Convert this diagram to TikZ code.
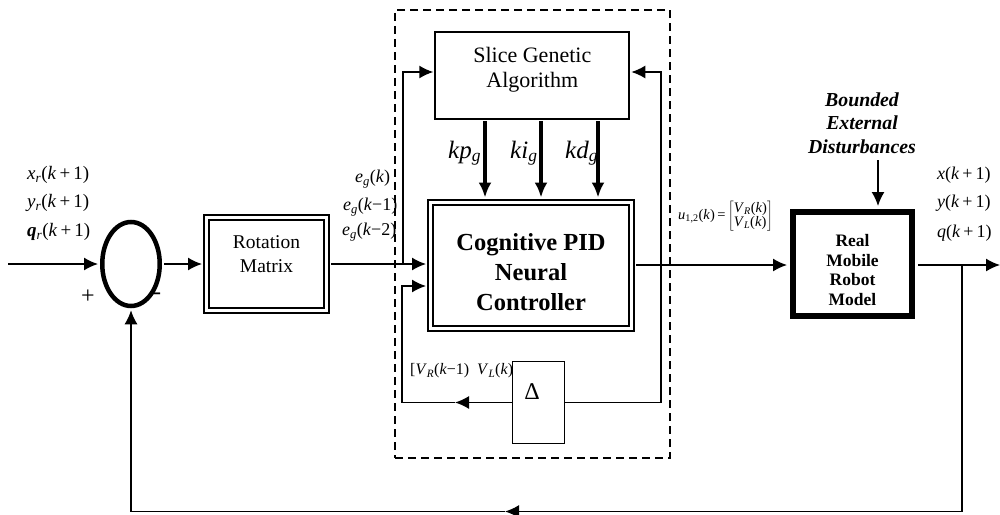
\documentclass[tikz,border=0pt]{standalone}
\usepackage{fontspec}
\setmainfont{Liberation Serif}
\usetikzlibrary{arrows.meta,shapes.geometric}
\newcommand{\fsz}[2]{\fontsize{#1}{#2}\selectfont}
\newcommand{\iv}[1]{\textit{#1}}
\newcommand{\sub}[1]{\textsubscript{#1}}
\begin{document}
\begin{tikzpicture}[x=1pt,y=-1pt,
  conn/.style={line width=1.5pt},
  arr/.style={line width=1.5pt,-{Latex[length=14pt,width=13pt]}},
  gainarr/.style={line width=3.5pt,-{Latex[length=15pt,width=13pt]}},
  dbox/.style={draw,double,line width=2pt,double distance=3pt,inner sep=0pt},
  sbox/.style={draw,inner sep=0pt},
  txt/.style={inner sep=0pt,align=center},
  lab/.style={inner sep=0pt,anchor=west,font=\fsz{19}{20}},
  olab/.style={inner sep=0pt,anchor=west,font=\fsz{18}{20}},
  elab/.style={inner sep=0pt,anchor=west,font=\fsz{18}{20}},
  glab/.style={inner sep=0pt,anchor=base west,font=\fsz{25}{28}}
]
\useasboundingbox (0,0) rectangle (1000,514);

% group
\node[draw,dash pattern=on 8pt off 5pt,line width=2.2pt,minimum width=275pt,minimum height=448pt,inner sep=0pt] (grp) at (532.5,234) {};

% blocks
\node[ellipse,draw,line width=4.5pt,minimum width=57.5pt,minimum height=84pt,inner sep=0pt] (sum) at (131,264) {};
\node[dbox,minimum width=120pt,minimum height=93pt] (rot) at (266.5,264) {};
\node[txt,font=\fsz{19.5}{24}] (rottxt) at (266.5,254) {Rotation\\Matrix};

\node[sbox,line width=2pt,minimum width=194pt,minimum height=87pt] (sga) at (532.3,75.8) {};
\node[txt,font=\fsz{22}{25}] (sgatxt) at (532.3,70) {Slice Genetic\\Algorithm};

\node[dbox,minimum width=201pt,minimum height=126pt] (ctrl) at (531,265) {};
\node[txt,font=\bfseries\fsz{24.5}{30}] (ctrltxt) at (531,272) {Cognitive PID\\Neural\\Controller};

\node[draw,line width=6pt,minimum width=119pt,minimum height=104pt,inner sep=0pt] (robot) at (852.5,264) {};
\node[txt,font=\bfseries\fsz{17.5}{19.5}] (robottxt) at (852.5,270) {Real\\Mobile\\Robot\\Model};

\node[txt,font=\bfseries\itshape\fsz{19.8}{23.5}] (dist) at (862,123) {Bounded\\External\\Disturbances};

% labels
\node[lab] (xr) at (27,175) {\iv{x}\sub{\iv{r}}(\iv{k}\,+\,1)};
\node[lab] (yr) at (27,203) {\iv{y}\sub{\iv{r}}(\iv{k}\,+\,1)};
\node[lab] (qr) at (27,232) {\textbf{\iv{q}}\sub{\iv{r}}(\iv{k}\,+\,1)};
\node[inner sep=0pt,font=\fsz{24}{24}] (plus) at (88,297) {+};
\node[inner sep=0pt,font=\fsz{24}{24}] (minus) at (157,296) {-};

\node[elab] (e0) at (355,179) {\iv{e}\sub{\iv{g}}(\iv{k})};
\node[elab] (e1) at (343,207) {\iv{e}\sub{\iv{g}}(\iv{k}−1)};
\node[elab] (e2) at (342,232) {\iv{e}\sub{\iv{g}}(\iv{k}−2)};

\node[glab] (kp) at (448,158) {\iv{kp}\sub{\iv{g}}};
\node[glab] (ki) at (510,158) {\iv{ki}\sub{\iv{g}}};
\node[glab] (kd) at (565,158) {\iv{kd}\sub{\iv{g}}};

\node[inner sep=0pt,anchor=west,font=\fsz{14.5}{16}] (ulab) at (678,216) {\iv{u}\sub{1,2}(\iv{k})\,=\,$\left[\begin{tabular}{@{}l@{}}\iv{V}\sub{\iv{R}}(\iv{k})\\[-2pt]\iv{V}\sub{\iv{L}}(\iv{k})\end{tabular}\right]$};

\node[inner sep=0pt,anchor=west,font=\fsz{16}{18}] (vlab) at (410,371) {[\iv{V}\sub{\iv{R}}(\iv{k}−1)\ \ \iv{V}\sub{\iv{L}}(\iv{k})]};

\node[olab] (xo) at (937,175) {\iv{x}(\iv{k}\,+\,1)};
\node[olab] (yo) at (937,203) {\iv{y}(\iv{k}\,+\,1)};
\node[olab] (qo) at (937,233) {\iv{q}(\iv{k}\,+\,1)};

% delta block (covers the label end)
\node[sbox,fill=white,line width=1.5pt,minimum width=52pt,minimum height=82pt] (delta) at (538.4,402.5) {};
\node[inner sep=0pt,font=\fsz{24}{24}] (deltatxt) at (532,392) {Δ};

% coordinates
\coordinate (in) at (8,264);
\coordinate (j1) at (403,264);
\coordinate (c1) at (403,72);
\coordinate (j2) at (661,265);
\coordinate (c2) at (661,72);
\coordinate (c3) at (661,402.5);
\coordinate (m1) at (455,402.5);
\coordinate (c4) at (402,402.5);
\coordinate (c5) at (402,286);
\coordinate (j3) at (962,265);
\coordinate (out) at (1000,265);
\coordinate (b1) at (962,511.5);
\coordinate (b2) at (505,511.5);
\coordinate (d0) at (878,160);
\coordinate (kpx) at (485,0);
\coordinate (kix) at (541,0);
\coordinate (kdx) at (598,0);

% connectors
\draw[arr,shorten >=2pt] (in) -- (sum.west);
\draw[arr,shorten <=2pt,shorten >=3.5pt] (sum.east) -- (rot.west);
\draw[arr,shorten <=3.5pt,shorten >=3.5pt] (rot.east) -- (rot.east -| ctrl.west);
\draw[arr,shorten >=1pt] (j1) -- (c1) -- (c1 -| sga.west);
\draw[arr,shorten >=1pt] (j2) -- (c2) -- (c2 -| sga.east);
\draw[conn] (j2) -- (c3) -- (delta.east);
\draw[arr] (delta.west) -- (m1);
\draw[arr,shorten >=3.5pt] (m1) -- (c4) -- (c5) -- (c5 -| ctrl.west);
\draw[arr,shorten <=3.5pt,shorten >=3pt] (ctrl.east) -- (ctrl.east -| robot.west);
\draw[arr,shorten <=3pt] (ctrl.east -| robot.east) -- (out);
\draw[arr] (j3) -- (b1) -- (b2);
\draw[arr,shorten >=2pt] (b2) -- (b2 -| sum.south) -- (sum.south);
\draw[arr,shorten >=3pt] (d0) -- (d0 |- robot.north);
\draw[gainarr,shorten <=1pt,shorten >=3.5pt] (sga.south -| kpx) -- (ctrl.north -| kpx);
\draw[gainarr,shorten <=1pt,shorten >=3.5pt] (sga.south -| kix) -- (ctrl.north -| kix);
\draw[gainarr,shorten <=1pt,shorten >=3.5pt] (sga.south -| kdx) -- (ctrl.north -| kdx);
\end{tikzpicture}
\end{document}
